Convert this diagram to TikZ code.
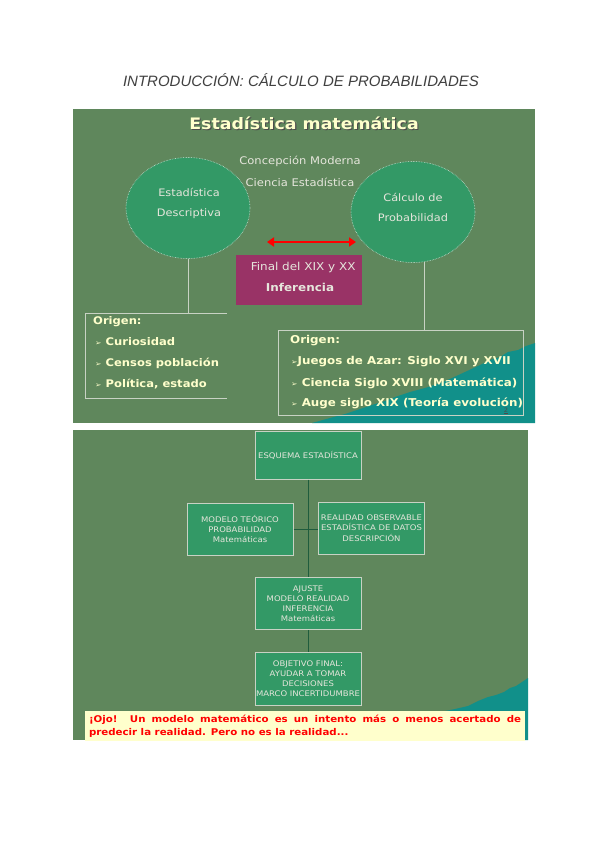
\documentclass[tikz,border=0pt]{standalone}
\usepackage{fontspec}
\setmainfont[FakeStretch=1.1]{DejaVu Sans}
\newfontfamily\headfont{Liberation Sans}
\usetikzlibrary{shapes.geometric,arrows.meta}
\definecolor{slidebg}{HTML}{5F875C}
\definecolor{ellgreen}{HTML}{339966}
\definecolor{purplebox}{HTML}{993366}
\definecolor{creamtxt}{HTML}{FFFFCC}
\definecolor{lighttxt}{HTML}{E6E6DC}
\definecolor{tealdeco}{HTML}{11908A}
\definecolor{notebg}{HTML}{FFFFCC}
\definecolor{linegray}{HTML}{C8D2C4}
\tikzset{
  ell/.style={ellipse, fill=ellgreen, draw=white!75!ellgreen, densely dotted, line width=0.6pt,
    minimum width=124pt, minimum height=101pt},
  elltxt/.style={align=center, text=lighttxt, font=\fontsize{10.3}{20}\selectfont},
  slidetxt/.style={text=lighttxt, font=\fontsize{10.5}{12}\selectfont},
  origtxt/.style={text=creamtxt, font=\bfseries\fontsize{10.5}{11}\selectfont, anchor=west, inner sep=0pt},
  origtxtR/.style={origtxt, font=\bfseries\fontsize{10.8}{11}\selectfont},
  schemebox/.style={rectangle, fill=ellgreen, draw=linegray, line width=1pt,
    minimum width=106pt, minimum height=52pt, align=center, text=lighttxt,
    font=\fontsize{7.7}{10.2}\selectfont, inner sep=1pt},
  thinline/.style={draw=linegray, line width=0.7pt},
  darkline/.style={draw=ellgreen!60!black, line width=0.8pt},
}
\newcommand{\bul}{{\fontsize{7}{8}\selectfont ➢}}
\begin{document}
\begin{tikzpicture}[x=1pt,y=-1pt]
\useasboundingbox (0,0) rectangle (600,848);
\fill[white] (0,0) rectangle (600,848);
% heading
\node[font=\headfont\itshape\fontsize{15}{17}\selectfont, text=black!75] (head) at (301,80) {INTRODUCCIÓN: CÁLCULO DE PROBABILIDADES};

% ===== slide 1 =====
\fill[slidebg] (73,109) rectangle (535,423);
\fill[tealdeco] (312,423) -- (330,418) -- (345,414) -- (360,409) -- (372,405) -- (385,401) -- (398,396) -- (410,392) -- (425,388) -- (440,383) -- (452,378) -- (465,372) -- (478,366) -- (490,360) -- (500,357) -- (508,352) -- (518,350) -- (526,346) -- (535,343) -- (535,423) -- cycle;
\node[font=\bfseries\fontsize{15.8}{20}\selectfont, text=black!70] (titleshadow) at (305.2,124.2) {Estadística matemática};
\node[font=\bfseries\fontsize{15.8}{20}\selectfont, text=creamtxt] (title) at (304,123) {Estadística matemática};

\node[slidetxt] (concep) at (300,161) {Concepción Moderna};
\node[slidetxt] (ciencia) at (300,182) {Ciencia Estadística};

\node[ell] (ellL) at (188,208) {};
\node[elltxt] (ellLtxt) at (189,203) {Estadística\\Descriptiva};
\node[ell] (ellR) at (413,212) {};
\node[elltxt] (ellRtxt) at (413,207) {Cálculo de\\Probabilidad};

\node[rectangle, fill=purplebox, minimum width=126pt, minimum height=50pt, inner sep=0pt] (purple) at (299,280) {};
\node[slidetxt, anchor=east, font=\fontsize{10.9}{12}\selectfont] (final) at (359,267) {Final del XIX y XX};
\node[text=lighttxt, font=\bfseries\fontsize{10.9}{12}\selectfont] (inferencia) at (300,287) {Inferencia};

\coordinate (arrL) at (267,242);
\coordinate (arrR) at (356,242);
\draw[red, line width=2.6pt, {Triangle[length=7pt,width=9pt]}-{Triangle[length=7pt,width=9pt]}] (arrL) -- (arrR);

% left bracket box
\coordinate (lbTL) at (85,313);
\coordinate (lbTR) at (227,313);
\coordinate (lbBL) at (85,398);
\coordinate (lbBR) at (227,398);
\draw[thinline] (lbTR) -- (lbTL) -- (lbBL) -- (lbBR);
\draw[thinline] (ellL.south) -- (ellL.south |- lbTL);
\node[origtxt] (orL) at (93,322) {Origen:};
\node[origtxt] (or1) at (95,342) {\bul\ Curiosidad};
\node[origtxt] (or2) at (95,363) {\bul\ Censos población};
\node[origtxt] (or3) at (95,384) {\bul\ Política, estado};

% right box
\node[rectangle, thinline, minimum width=245pt, minimum height=85pt, inner sep=0pt] (rbox) at (400.5,372.5) {};
\coordinate (rtop) at (424,330);
\draw[thinline] (rtop |- ellR.south) ++(0,-1) -- (rtop);
\node[origtxtR] (orR) at (290,341) {Origen:};
\node[origtxtR] (ir1) at (291,362) {\bul Juegos de Azar: Siglo XVI y XVII};
\node[origtxtR] (ir2) at (291,383) {\bul\ Ciencia Siglo XVIII (Matemática)};
\node[origtxtR] (ir3) at (291,403) {\bul\ Auge siglo XIX (Teoría evolución)};
\node[text=black!70, font=\fontsize{6}{7}\selectfont, inner sep=0pt] (pnum) at (506,411) {\underline{2}};

% ===== slide 2 =====
\fill[slidebg] (73,430) rectangle (528,740);
\fill[tealdeco] (440,712) -- (455,709) -- (468,706) -- (478,701) -- (488,697) -- (496,695) -- (504,692) -- (510,688) -- (516,686) -- (522,682) -- (528,678) -- (528,740) -- (440,740) -- cycle;

\node[schemebox, minimum height=48pt] (esq) at (308,455) {ESQUEMA ESTADÍSTICA};
\node[schemebox] (modelo) at (240,529) {MODELO TEÓRICO\\PROBABILIDAD\\Matemáticas};
\node[schemebox] (realidad) at (371.5,528) {REALIDAD OBSERVABLE\\ESTADÍSTICA DE DATOS\\DESCRIPCIÓN};
\node[schemebox] (ajuste) at (308,603.5) {AJUSTE\\MODELO REALIDAD\\INFERENCIA\\Matemáticas};
\node[schemebox, minimum height=53pt] (objetivo) at (308,678.5) {OBJETIVO FINAL:\\AYUDAR A TOMAR\\DECISIONES\\MARCO INCERTIDUMBRE};

\draw[darkline] (esq.south) -- (ajuste.north);
\draw[darkline] (modelo.east) -- (realidad.west |- modelo.east);
\draw[darkline] (ajuste.south) -- (objetivo.north);

\node[rectangle, fill=notebg, minimum width=440pt, minimum height=30pt, text width=432pt, align=justify,
  text=red, font=\bfseries\fontsize{9.3}{12.5}\selectfont, inner sep=4pt] (note) at (305,726)
  {¡Ojo! Un modelo matemático es un intento más o menos acertado de\linebreak predecir la realidad. Pero no es la realidad...};
\end{tikzpicture}
\end{document}
